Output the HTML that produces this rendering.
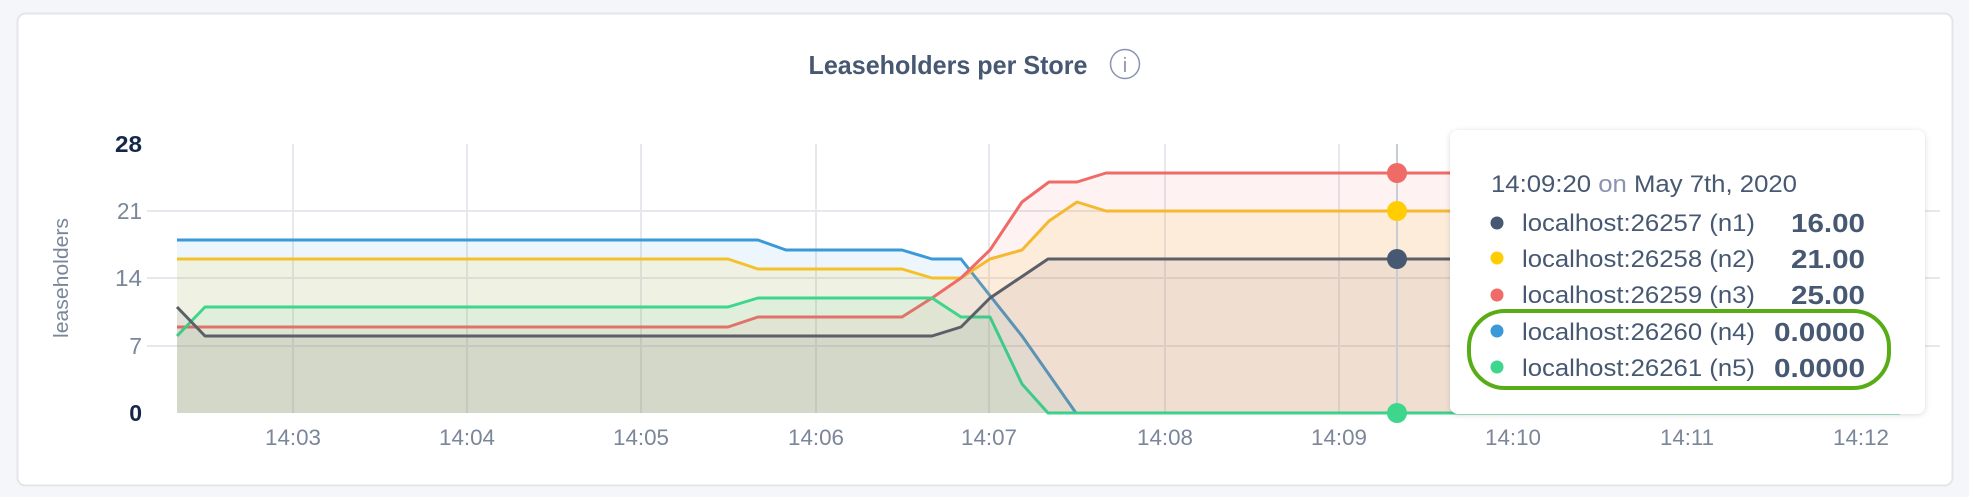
<!DOCTYPE html>
<html><head><meta charset="utf-8"><style>
html,body{margin:0;padding:0;background:#f5f6f9;}
svg{display:block;font-family:"Liberation Sans",sans-serif;}
</style></head><body>
<svg width="1969" height="497" viewBox="0 0 1969 497" xmlns="http://www.w3.org/2000/svg">
<defs>
<filter id="sh" x="-10%" y="-10%" width="120%" height="120%"><feDropShadow dx="0" dy="1" stdDeviation="3" flood-color="#000" flood-opacity="0.15"/></filter>
</defs>
<rect x="17.5" y="13.5" width="1935" height="472" rx="8" fill="#fff" stroke="#e3e5e9" stroke-width="2"/>
<text x="948" y="74" text-anchor="middle" font-size="26" font-weight="bold" fill="#475872" textLength="279" lengthAdjust="spacingAndGlyphs">Leaseholders per Store</text>
<circle cx="1125" cy="64" r="14.5" fill="none" stroke="#8a94b0" stroke-width="1.5"/>
<text x="1125" y="72" text-anchor="middle" font-size="20" fill="#8a94b0">i</text>
<!-- grid -->
<g stroke="#e6e8ed" stroke-width="2">
<line x1="147" y1="211" x2="1940" y2="211"/><line x1="147" y1="278" x2="1940" y2="278"/><line x1="147" y1="346" x2="1940" y2="346"/>
<line x1="293" y1="144" x2="293" y2="413"/><line x1="467" y1="144" x2="467" y2="413"/><line x1="641" y1="144" x2="641" y2="413"/><line x1="816" y1="144" x2="816" y2="413"/><line x1="989" y1="144" x2="989" y2="413"/><line x1="1165" y1="144" x2="1165" y2="413"/><line x1="1339" y1="144" x2="1339" y2="413"/><line x1="1513" y1="144" x2="1513" y2="413"/><line x1="1687" y1="144" x2="1687" y2="413"/><line x1="1861" y1="144" x2="1861" y2="413"/>
</g>
<!-- y labels -->
<g font-size="23" text-anchor="end">
<text x="142" y="152" font-weight="bold" fill="#152849" textLength="27" lengthAdjust="spacingAndGlyphs">28</text>
<text x="142" y="219" fill="#7a8699" textLength="25" lengthAdjust="spacingAndGlyphs">21</text>
<text x="142" y="286" fill="#7a8699" textLength="27" lengthAdjust="spacingAndGlyphs">14</text>
<text x="142" y="354" fill="#7a8699">7</text>
<text x="142" y="421" font-weight="bold" fill="#152849">0</text>
</g>
<text transform="translate(68,278) rotate(-90)" text-anchor="middle" font-size="20" fill="#7a8699" textLength="120" lengthAdjust="spacingAndGlyphs">leaseholders</text>
<g font-size="22" fill="#7a8699" text-anchor="middle">
<text x="293" y="445" textLength="56" lengthAdjust="spacingAndGlyphs">14:03</text><text x="467" y="445" textLength="56" lengthAdjust="spacingAndGlyphs">14:04</text><text x="641" y="445" textLength="56" lengthAdjust="spacingAndGlyphs">14:05</text><text x="816" y="445" textLength="56" lengthAdjust="spacingAndGlyphs">14:06</text><text x="989" y="445" textLength="56" lengthAdjust="spacingAndGlyphs">14:07</text><text x="1165" y="445" textLength="56" lengthAdjust="spacingAndGlyphs">14:08</text><text x="1339" y="445" textLength="56" lengthAdjust="spacingAndGlyphs">14:09</text><text x="1513" y="445" textLength="56" lengthAdjust="spacingAndGlyphs">14:10</text><text x="1687" y="445" textLength="54" lengthAdjust="spacingAndGlyphs">14:11</text><text x="1861" y="445" textLength="56" lengthAdjust="spacingAndGlyphs">14:12</text>
</g>
<g stroke-width="3" stroke-linejoin="round">
<polygon fill="#3a99d9" fill-opacity="0.09" stroke="none" points="177,413 177,240 758,240 786,250 902,250 932,259 961,259 1022,336 1076,413 1900,413"/>
<polyline fill="none" stroke="#3a99d9" points="177,240 758,240 786,250 902,250 932,259 961,259 1022,336 1076,413 1900,413"/>
<polygon fill="#ffc61a" fill-opacity="0.11" stroke="none" points="177,413 177,259 728,259 758,269 902,269 932,278 961,278 990,259 1022,250 1049,221 1077,202 1106,211 1900,211 1900,413"/>
<polyline fill="none" stroke="#f5c12a" points="177,259 728,259 758,269 902,269 932,278 961,278 990,259 1022,250 1049,221 1077,202 1106,211 1900,211"/>
<polygon fill="#f06a6a" fill-opacity="0.09" stroke="none" points="177,413 177,327 728,327 758,317 902,317 932,298 961,278 990,250 1022,202 1049,182 1077,182 1106,173 1900,173 1900,413"/>
<polyline fill="none" stroke="#ef6b67" points="177,327 728,327 758,317 902,317 932,298 961,278 990,250 1022,202 1049,182 1077,182 1106,173 1900,173"/>
<polygon fill="#37d38d" fill-opacity="0.08" stroke="none" points="177,413 177,336 205,307 728,307 758,298 932,298 961,317 990,317 1022,384 1048,413"/>
<polyline fill="none" stroke="#3dd68c" points="177,336 205,307 728,307 758,298 932,298 961,317 990,317 1022,384 1048,413 1900,413"/>
<polygon fill="#475060" fill-opacity="0.08" stroke="none" points="177,413 177,307 205,336 932,336 961,327 990,298 1048,259 1900,259 1900,413"/>
<polyline fill="none" stroke="#5b6068" points="177,307 205,336 932,336 961,327 990,298 1048,259 1900,259"/>
</g>
<line x1="1397" y1="144" x2="1397" y2="413" stroke="#c8ccd3" stroke-width="2"/>
<circle cx="1397" cy="173" r="10" fill="#ef6b67"/>
<circle cx="1397" cy="211" r="10" fill="#ffcd02"/>
<circle cx="1397" cy="259" r="10" fill="#475872"/>
<circle cx="1397" cy="413" r="10" fill="#3dd68c"/>
<!-- tooltip -->
<rect x="1450" y="130" width="475" height="284" rx="8" fill="#fff" filter="url(#sh)"/>
<text x="1491" y="192" font-size="24" fill="#475872" textLength="306" lengthAdjust="spacingAndGlyphs">14:09:20 <tspan fill="#8a94b0">on</tspan> May 7th, 2020</text>
<g font-size="24" fill="#475872">
<circle cx="1497" cy="223" r="6.5" fill="#475872"/>
<text x="1522" y="231" textLength="233" lengthAdjust="spacingAndGlyphs">localhost:26257 (n1)</text>
<text x="1865" y="232" text-anchor="end" font-weight="bold" font-size="26" textLength="74" lengthAdjust="spacingAndGlyphs">16.00</text>
<circle cx="1497" cy="258" r="6.5" fill="#ffcd02"/>
<text x="1522" y="267" textLength="233" lengthAdjust="spacingAndGlyphs">localhost:26258 (n2)</text>
<text x="1865" y="268" text-anchor="end" font-weight="bold" font-size="26" textLength="74" lengthAdjust="spacingAndGlyphs">21.00</text>
<circle cx="1497" cy="295" r="6.5" fill="#ef6b67"/>
<text x="1522" y="303" textLength="233" lengthAdjust="spacingAndGlyphs">localhost:26259 (n3)</text>
<text x="1865" y="304" text-anchor="end" font-weight="bold" font-size="26" textLength="74" lengthAdjust="spacingAndGlyphs">25.00</text>
<circle cx="1497" cy="331" r="6.5" fill="#3a99d9"/>
<text x="1522" y="340" textLength="233" lengthAdjust="spacingAndGlyphs">localhost:26260 (n4)</text>
<text x="1865" y="341" text-anchor="end" font-weight="bold" font-size="26" textLength="91" lengthAdjust="spacingAndGlyphs">0.0000</text>
<circle cx="1497" cy="367" r="6.5" fill="#3dd68c"/>
<text x="1522" y="376" textLength="233" lengthAdjust="spacingAndGlyphs">localhost:26261 (n5)</text>
<text x="1865" y="377" text-anchor="end" font-weight="bold" font-size="26" textLength="91" lengthAdjust="spacingAndGlyphs">0.0000</text>
</g>
<rect x="1469" y="311" width="420" height="77" rx="36" fill="none" stroke="#58ad17" stroke-width="4"/>
</svg>
</body></html>
